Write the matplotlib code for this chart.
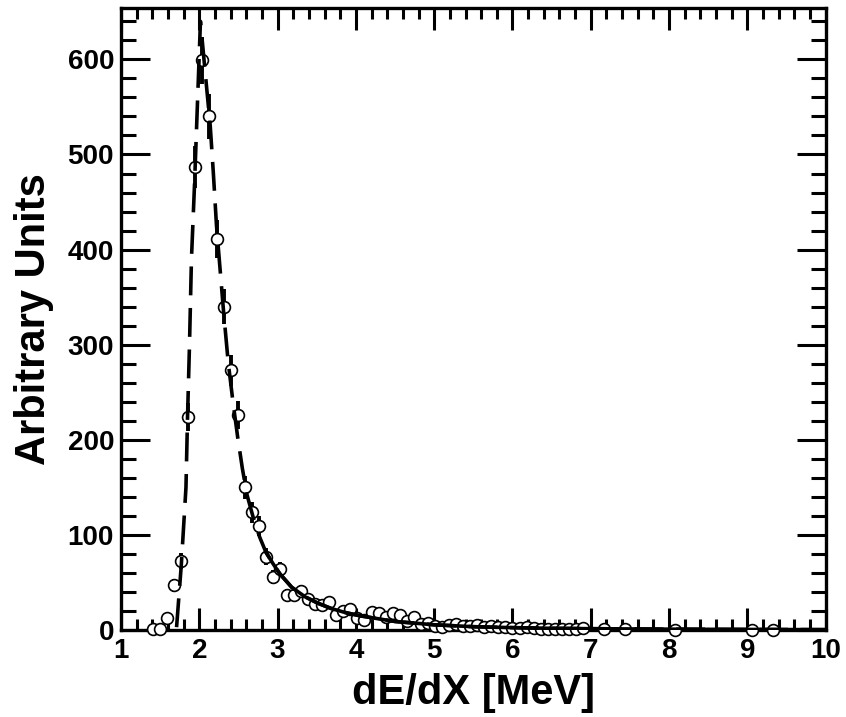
import numpy as np
import matplotlib
matplotlib.use("Agg")
import matplotlib.pyplot as plt
from matplotlib.ticker import MultipleLocator

# measured dE/dX spectrum (bin centres, counts, errors)
dedx = [1.41, 1.50, 1.59, 1.68, 1.77, 1.86, 1.95, 2.04, 2.13, 2.22,
        2.31, 2.40, 2.49, 2.58, 2.67, 2.76, 2.85, 2.94, 3.03, 3.12,
        3.21, 3.30, 3.39, 3.48, 3.57, 3.66, 3.75, 3.84, 3.93, 4.02,
        4.11, 4.20, 4.29, 4.38, 4.47, 4.56, 4.65, 4.74, 4.83, 4.92,
        5.01, 5.10, 5.19, 5.28, 5.37, 5.46, 5.55, 5.64, 5.73, 5.82,
        5.91, 6.00, 6.09, 6.18, 6.27, 6.36, 6.45, 6.54, 6.63, 6.72,
        6.81, 6.90, 7.17, 7.44, 8.07, 9.06, 9.33]
counts = [1, 1, 13, 47, 73, 224, 487, 599, 540, 411,
          340, 273, 226, 150, 124, 109, 77, 56, 64, 37,
          37, 41, 33, 27, 26, 29, 16, 20, 22, 13,
          11, 19, 18, 14, 18, 16, 9, 14, 6, 7,
          4, 3, 5, 6, 4, 4, 5, 3, 4, 3,
          3, 2, 2, 3, 2, 1, 1, 1, 1, 1,
          1, 2, 1, 1, 0, 0, 0]
count_err = [1.0, 1.0, 3.6, 6.9, 8.5, 15.0, 22.1, 24.5, 23.2, 20.3,
             18.4, 16.5, 15.0, 12.2, 11.1, 10.4, 8.8, 7.5, 8.0, 6.1,
             6.1, 6.4, 5.7, 5.2, 5.1, 5.4, 4.0, 4.5, 4.7, 3.6,
             3.3, 4.4, 4.2, 3.7, 4.2, 4.0, 3.0, 3.7, 2.4, 2.6,
             2.0, 1.7, 2.2, 2.4, 2.0, 2.0, 2.2, 1.7, 2.0, 1.7,
             1.7, 1.4, 1.4, 1.7, 1.4, 1.0, 1.0, 1.0, 1.0, 1.0,
             1.0, 1.4, 1.0, 1.0, 0.0, 0.0, 0.0]

# fit function
fit_x = [1.71, 1.77, 1.83, 1.85, 1.875, 1.90, 1.94, 1.975, 2.015,
         2.06, 2.10, 2.14, 2.18, 2.22, 2.26, 2.31, 2.37, 2.43, 2.49,
         2.55, 2.61, 2.69, 2.77, 2.85, 2.94, 3.03, 3.18, 3.35, 3.52,
         3.69, 3.86, 4.05, 4.50, 5.00, 5.50, 6.00, 6.50, 7.00, 8.00,
         9.00, 10.00]
fit_y = [3, 68, 150, 224, 300, 390, 470, 550, 640,
         600, 565, 530, 480, 425, 385, 335, 281, 240, 203,
         170, 142, 118, 98, 82, 70, 59, 45, 35, 28,
         22.5, 18.5, 15, 9, 5.5, 3.5, 2.5, 1.8, 1.4, 0.9,
         0.6, 0.4]
tail_start = 2.80

plt.rcParams['font.family'] = ['Liberation Sans', 'DejaVu Sans']
plt.rcParams['font.weight'] = 'bold'

fig = plt.figure(figsize=(8.46, 7.17), dpi=100)
ax = fig.add_axes([0.143, 0.1213, 0.833, 0.8675])

ax.errorbar(dedx, counts, yerr=count_err, fmt='o', ms=8.5, mfc='white',
            mec='black', mew=1.2, ecolor='black', elinewidth=2.8,
            capsize=0, clip_on=False, zorder=3)

fx = np.array(fit_x)
fy = np.array(fit_y)
ax.plot(fx, fy, color='black', lw=2.6, dashes=(8, 3.5), zorder=4)
ax.plot(fx[fx >= tail_start], fy[fx >= tail_start], color='black', lw=2.6,
        zorder=4)

ax.set_xlim(1, 10)
ax.set_ylim(0, 654)
ax.xaxis.set_major_locator(MultipleLocator(1))
ax.xaxis.set_minor_locator(MultipleLocator(0.2))
ax.yaxis.set_major_locator(MultipleLocator(100))
ax.yaxis.set_minor_locator(MultipleLocator(20))

ax.tick_params(axis='x', which='major', direction='in', length=16, width=2.2,
               top=True, labelsize=20, pad=6)
ax.tick_params(axis='x', which='minor', direction='in', length=8, width=2.2,
               top=True)
ax.tick_params(axis='y', which='major', direction='in', length=21, width=2.2,
               right=True, labelsize=20, pad=5)
ax.tick_params(axis='y', which='minor', direction='in', length=11, width=2.2,
               right=True)
for s in ax.spines.values():
    s.set_linewidth(2.4)

ax.set_xlabel("dE/dX [MeV]", fontsize=30, fontweight='bold', labelpad=6)
ax.set_ylabel("Arbitrary Units", fontsize=30, fontweight='bold', labelpad=10)

fig.savefig("out.png", dpi=100)
